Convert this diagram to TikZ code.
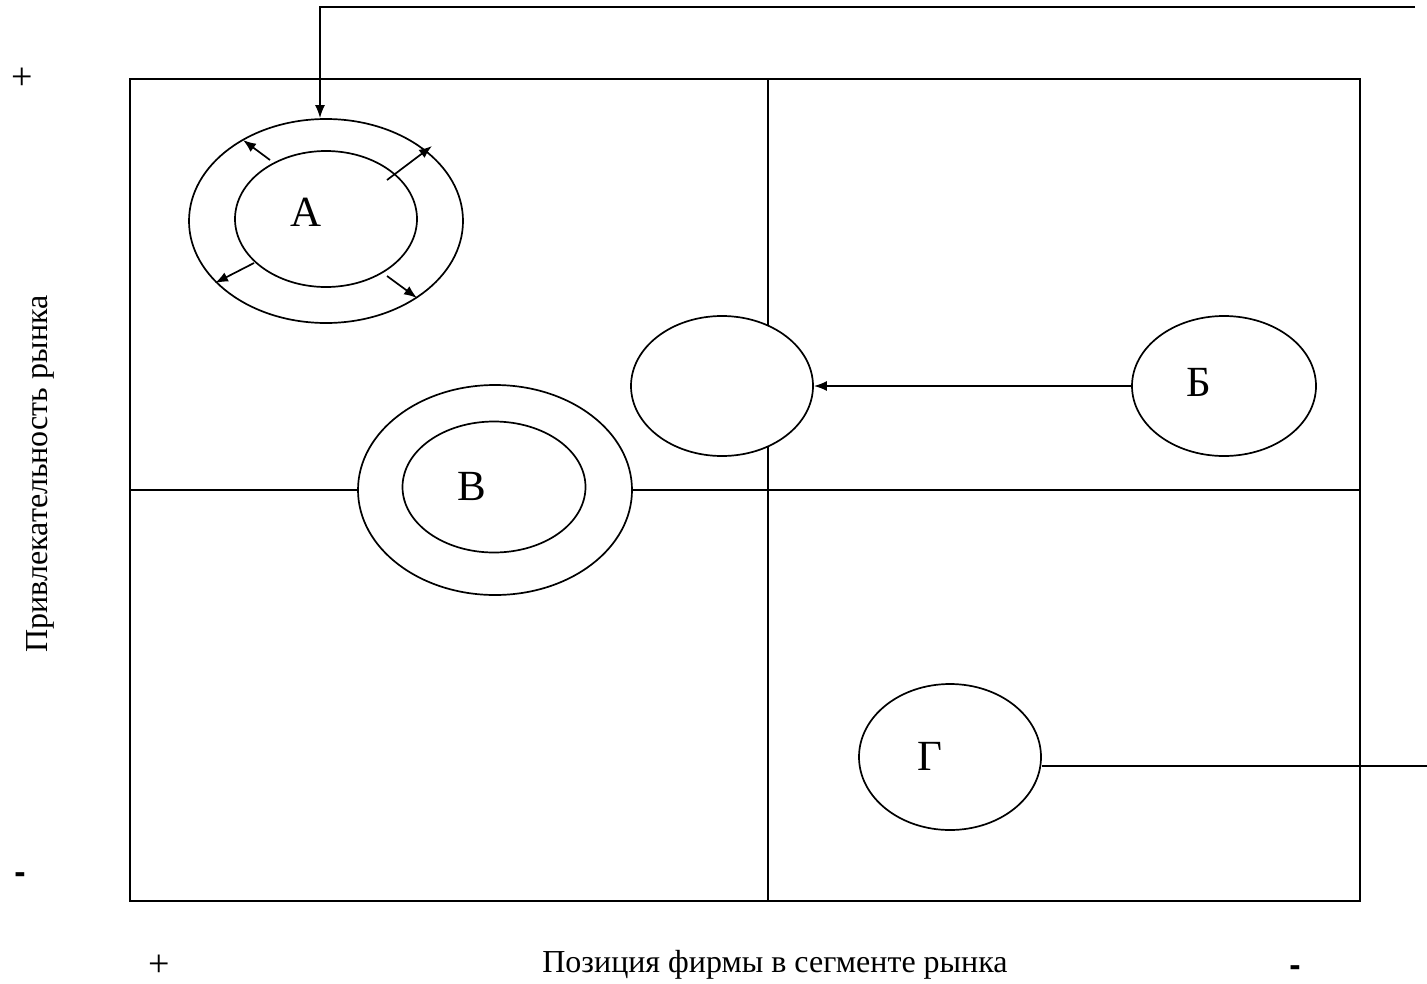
\documentclass[tikz,border=0pt]{standalone}
\usepackage{fontspec}
\setmainfont{Liberation Serif}
\newfontfamily\dashfont{Liberation Sans}
\usetikzlibrary{arrows.meta,shapes.geometric}
\begin{document}
\begin{tikzpicture}[x=1pt,y=-1pt,
  ln/.style={line width=1.7pt,draw=black},
  ell/.style={ellipse,ln,fill=white,inner sep=0pt},
  arr/.style={ln,-{Latex[length=13pt,width=10pt]}},
  lbl/.style={font=\fontsize{43}{46}\selectfont},
  axis/.style={font=\fontsize{32}{36}\selectfont},
  pls/.style={inner sep=0pt,font=\fontsize{38}{40}\selectfont},
  sgn/.style={inner sep=0pt,anchor=base,font=\dashfont\bfseries\fontsize{34}{36}\selectfont}]
\useasboundingbox (0,0) rectangle (1427,983);
% frame and quadrants
\draw[ln] (130,79) rectangle (1360,901);
\coordinate (vt) at (768,79);
\coordinate (vb) at (768,901);
\coordinate (hl) at (130,490);
\coordinate (hr) at (1360,490);
\draw[ln] (vt) -- (vb);
\draw[ln] (hl) -- (hr);
% ellipses
\node[ell,minimum width=274pt,minimum height=204pt] (Ao) at (326,221) {};
\node[ell,minimum width=182pt,minimum height=136pt] (Ai) at (326,219) {};
\node[lbl] (A) at (306,212) {А};
\node[ell,minimum width=182pt,minimum height=140pt] (E) at (722,386) {};
\node[ell,minimum width=184pt,minimum height=140pt] (B) at (1224,386) {};
\node[lbl] at (1199,382) {Б};
\node[ell,minimum width=274pt,minimum height=210pt] (Vo) at (495,490) {};
\node[ell,minimum width=183pt,minimum height=131pt] (Vi) at (494,487) {};
\node[lbl] at (472,486) {В};
\node[ell,minimum width=182pt,minimum height=146pt] (G) at (950,757) {};
\node[lbl] at (930,756) {Г};
% arrows around A
\coordinate (a1s) at (270,160); \coordinate (a1e) at (243,140);
\coordinate (a2s) at (387,180); \coordinate (a2e) at (432,146);
\coordinate (a3s) at (254,263); \coordinate (a3e) at (215,283);
\coordinate (a4s) at (387,276); \coordinate (a4e) at (417,298);
\draw[arr] (a1s) -- (a1e);
\draw[arr] (a2s) -- (a2e);
\draw[arr] (a3s) -- (a3e);
\draw[arr] (a4s) -- (a4e);
% connectors
\coordinate (tr) at (1415,7);
\draw[arr] (tr) -- (320,7) -- (Ao.north -| 320,0);
\draw[arr] (B.west) -- (E.east);
\coordinate (gr) at (1427,766);
\draw[ln] (G.east |- gr) -- (gr);
% axis labels
\node[axis] at (775,965) {Позиция фирмы в сегменте рынка};
\node[axis,rotate=90] at (40,474) {Привлекательность рынка};
\node[pls] at (22,79) {+};
\node[pls] at (159,966) {+};
\node[sgn] at (20,883) {-};
\node[sgn] at (1295,976) {-};
\end{tikzpicture}
\end{document}
